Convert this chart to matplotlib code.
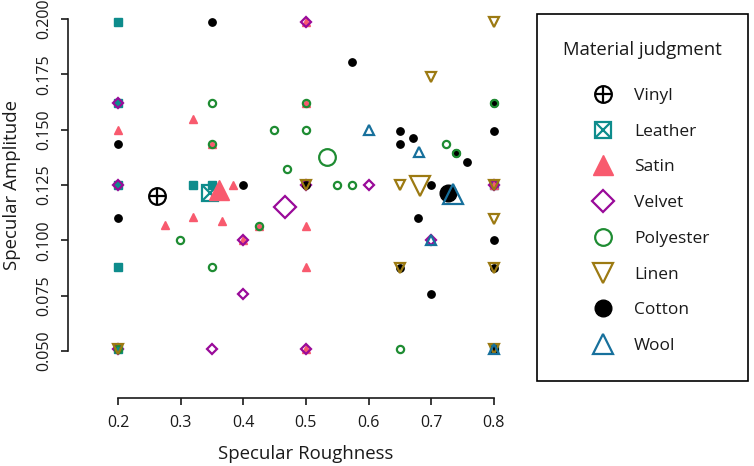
import matplotlib
matplotlib.use("Agg")
import matplotlib.pyplot as plt
from matplotlib.legend_handler import HandlerTuple
from matplotlib.patches import Rectangle

plt.rcParams['font.family'] = ['Open Sans', 'DejaVu Sans']

# individual judgments
leather_x = [0.2, 0.2, 0.2, 0.32, 0.35, 0.2, 0.2, 0.8, 0.8]
leather_y = [0.1986, 0.1619, 0.125, 0.125, 0.125, 0.0878, 0.0509, 0.125, 0.0509]

satin_x = [0.2, 0.32, 0.35, 0.384, 0.275, 0.32, 0.366, 0.425, 0.4, 0.5, 0.5, 0.5, 0.5, 0.5, 0.8]
satin_y = [0.1498, 0.1548, 0.1434, 0.125, 0.1069, 0.1107, 0.1087, 0.1065, 0.1001,
           0.1619, 0.1066, 0.088, 0.0509, 0.1986, 0.125]

velvet_x = [0.2, 0.2, 0.2, 0.35, 0.4, 0.4, 0.5, 0.5, 0.5, 0.6, 0.7, 0.8]
velvet_y = [0.1619, 0.125, 0.0509, 0.0509, 0.1001, 0.0757, 0.1986, 0.0509, 0.125,
            0.125, 0.1001, 0.125]

polyester_x = [0.35, 0.449, 0.35, 0.469, 0.5, 0.5, 0.549, 0.574, 0.724, 0.739, 0.8,
               0.299, 0.425, 0.35, 0.65, 0.2]
polyester_y = [0.1619, 0.1498, 0.1434, 0.1322, 0.1619, 0.1498, 0.125, 0.125, 0.1434,
               0.1396, 0.1619, 0.1001, 0.1065, 0.0878, 0.0509, 0.0509]

linen_x = [0.8, 0.7, 0.5, 0.65, 0.8, 0.65, 0.8, 0.2, 0.8, 0.8]
linen_y = [0.1986, 0.1737, 0.125, 0.125, 0.1095, 0.0876, 0.0876, 0.0509, 0.0509, 0.125]

cotton_x = [0.35, 0.574, 0.2, 0.2, 0.4, 0.65, 0.8, 0.671, 0.65, 0.739, 0.757, 0.7,
            0.679, 0.8, 0.7, 0.8, 0.65, 0.8, 0.5, 0.8]
cotton_y = [0.1986, 0.1804, 0.1434, 0.110, 0.125, 0.1494, 0.1494, 0.1461, 0.1434,
            0.1396, 0.1352, 0.125, 0.110, 0.1001, 0.0757, 0.1619, 0.0876, 0.0876,
            0.125, 0.0509]

wool_x = [0.6, 0.68, 0.7, 0.8]
wool_y = [0.1498, 0.14, 0.1001, 0.0509]

# mean judgment per material
materials = ['Vinyl', 'Leather', 'Satin', 'Velvet', 'Polyester', 'Linen', 'Cotton', 'Wool']
mean_x = [0.262, 0.347, 0.361, 0.467, 0.533, 0.682, 0.727, 0.734]
mean_y = [0.1202, 0.1212, 0.1226, 0.1149, 0.1378, 0.1246, 0.1212, 0.1209]

x_ticks = [0.2, 0.3, 0.4, 0.5, 0.6, 0.7, 0.8]
y_ticks = [0.050, 0.075, 0.100, 0.125, 0.150, 0.175, 0.200]

TEAL = '#0e8c8c'
PINK = '#f85a6e'
PURPLE = '#990a99'
GREEN = '#1e8c32'
OLIVE = '#9c7a12'
BLUE = '#17709c'
BLACK = '#000000'
INK = '#1a1a1a'

fig = plt.figure(figsize=(7.54, 4.66), dpi=100)
ax = fig.add_axes([0.1365, 0.2182, 0.5385, 0.7695])

lw = 1.6
# small points
ax.plot(leather_x, leather_y, 's', ms=5.5, color=TEAL, mec=TEAL, ls='none')
ax.plot(satin_x, satin_y, '^', ms=6, color=PINK, mec=PINK, ls='none')
ax.plot(velvet_x, velvet_y, 'D', ms=4.8, mfc='none', mec=PURPLE, mew=lw, ls='none')
ax.plot(cotton_x, cotton_y, 'o', ms=5.3, color=BLACK, ls='none')
ax.plot(polyester_x, polyester_y, 'o', ms=5.2, mfc='none', mec=GREEN, mew=lw, ls='none')
ax.plot(linen_x, linen_y, 'v', ms=6.5, mfc='none', mec=OLIVE, mew=lw, ls='none')
ax.plot(wool_x, wool_y, '^', ms=6.5, mfc='none', mec=BLUE, mew=lw, ls='none')

# means
big = 12
h = {}
h['Vinyl'] = (
    ax.plot(mean_x[0], mean_y[0], 'o', ms=big, mfc='none', mec=BLACK, mew=lw)[0],
    ax.plot(mean_x[0], mean_y[0], '+', ms=big, mec=BLACK, mew=lw)[0],
)
h['Leather'] = (
    ax.plot(mean_x[1], mean_y[1], 's', ms=big, mfc='none', mec=TEAL, mew=lw)[0],
    ax.plot(mean_x[1], mean_y[1], 'x', ms=big, mec=TEAL, mew=lw)[0],
)
h['Satin'] = ax.plot(mean_x[2], mean_y[2], '^', ms=15, color=PINK, mec=PINK)[0]
h['Velvet'] = ax.plot(mean_x[3], mean_y[3], 'D', ms=11.5, mfc='none', mec=PURPLE, mew=lw)[0]
h['Polyester'] = ax.plot(mean_x[4], mean_y[4], 'o', ms=big, mfc='none', mec=GREEN, mew=lw)[0]
h['Linen'] = ax.plot(mean_x[5], mean_y[5], 'v', ms=15, mfc='none', mec=OLIVE, mew=lw)[0]
h['Cotton'] = ax.plot(mean_x[6], mean_y[6], 'o', ms=big, color=BLACK)[0]
h['Wool'] = ax.plot(mean_x[7], mean_y[7], '^', ms=15, mfc='none', mec=BLUE, mew=lw)[0]

ax.set_xlim(0.176, 0.824)
ax.set_ylim(0.044, 0.206)

# R-style detached axes
for side in ['top', 'right']:
    ax.spines[side].set_visible(False)
ax.spines['bottom'].set_position(('outward', 24.3))
ax.spines['left'].set_position(('outward', 25.2))
ax.spines['bottom'].set_bounds(0.2, 0.8)
ax.spines['left'].set_bounds(0.05, 0.2)
for side in ['bottom', 'left']:
    ax.spines[side].set_linewidth(1.2)
    ax.spines[side].set_color(INK)

ax.set_xticks(x_ticks)
ax.set_xticklabels([f'{t:.1f}' for t in x_ticks])
ax.set_yticks(y_ticks)
ax.set_yticklabels([f'{t:.3f}' for t in y_ticks], rotation=90, va='center')
ax.tick_params(axis='both', length=5, width=1.2, labelsize=11.5, color=INK, labelcolor=INK)
ax.tick_params(axis='x', pad=7.5)
ax.tick_params(axis='y', pad=6.5)

ax.set_xlabel('Specular Roughness', fontsize=13.4, color=INK, labelpad=9.5)
ax.set_ylabel('Specular Amplitude', fontsize=13.4, color=INK, labelpad=11)

# legend: title and entries placed separately, box drawn by hand
fig.text(642.5 / 754, 1 - 50 / 466, 'Material judgment', fontsize=13.3, color=INK,
         ha='center', va='center')
leg = fig.legend(
    [h[m] for m in materials], materials,
    handler_map={tuple: HandlerTuple(ndivide=1)},
    fontsize=12.5,
    loc='upper left', bbox_to_anchor=(578.6 / 754, 1 - 87.7 / 466),
    borderaxespad=0, borderpad=0, labelspacing=1.13, handlelength=2.8,
    handletextpad=0.4, frameon=False,
)
for t in leg.get_texts():
    t.set_color(INK)

fig.patches.append(Rectangle((537 / 754, 1 - 381 / 466), 211 / 754, 367 / 466,
                             transform=fig.transFigure, fill=False,
                             edgecolor=BLACK, linewidth=1.2))

fig.savefig('out.png', dpi=100)
